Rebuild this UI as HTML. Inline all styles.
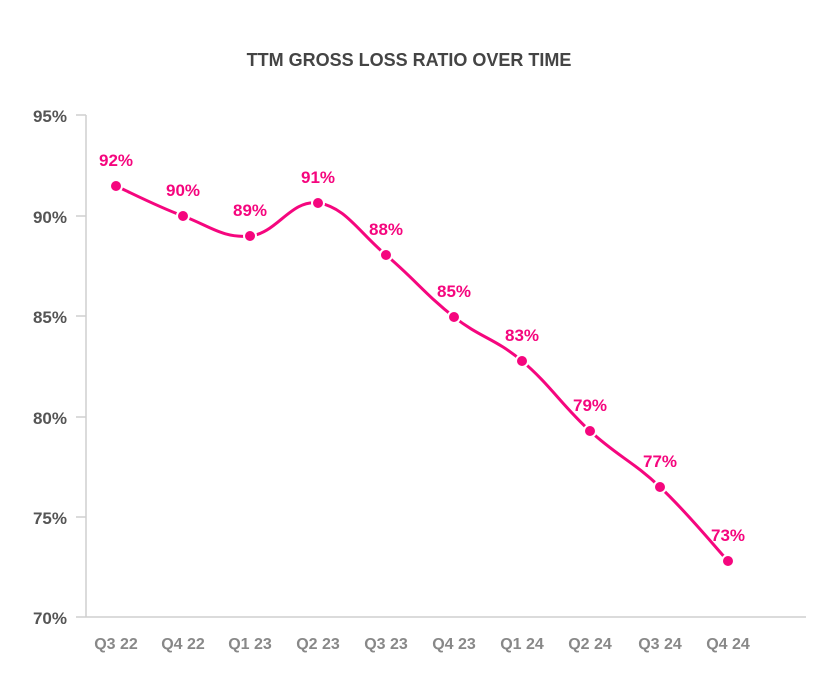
<!DOCTYPE html>
<html><head><meta charset="utf-8"><style>
html,body{margin:0;padding:0;background:#fff;}
svg text{font-family:"Liberation Sans",sans-serif;font-weight:bold;}
</style></head><body>
<svg id="c" width="828" height="683" xmlns="http://www.w3.org/2000/svg">
<text x="409" y="66" text-anchor="middle" font-size="18" fill="#444">TTM GROSS LOSS RATIO OVER TIME</text>
<g stroke="#cfcfcf" stroke-width="1.5" fill="none">
<line x1="86" y1="115" x2="86" y2="617"/>
<line x1="76" y1="617" x2="806" y2="617"/>
<line x1="76" y1="115" x2="86" y2="115"/>
<line x1="76" y1="216" x2="86" y2="216"/>
<line x1="76" y1="316" x2="86" y2="316"/>
<line x1="76" y1="417" x2="86" y2="417"/>
<line x1="76" y1="517" x2="86" y2="517"/>
</g>
<g font-size="17" fill="#555" text-anchor="end">
<text x="67" y="122">95%</text>
<text x="67" y="223">90%</text>
<text x="67" y="323">85%</text>
<text x="67" y="424">80%</text>
<text x="67" y="524">75%</text>
<text x="67" y="624">70%</text>
</g>
<g font-size="16" fill="#888" text-anchor="middle" id="xl"></g>
<path id="ln" fill="none" stroke="#f5067e" stroke-width="3"/>
<g id="pts"></g>
</svg>
<script>
var P=[[116,186,"92%","Q3 22"],[183,216,"90%","Q4 22"],[250,236,"89%","Q1 23"],[318,203,"91%","Q2 23"],[386,255,"88%","Q3 23"],[454,317,"85%","Q4 23"],[522,361,"83%","Q1 24"],[590,431,"79%","Q2 24"],[660,487,"77%","Q3 24"],[728,561,"73%","Q4 24"]];
var ns="http://www.w3.org/2000/svg";
var d="M"+P[0][0]+","+P[0][1];
for(var i=0;i<P.length-1;i++){
 var p0=P[Math.max(i-1,0)],p1=P[i],p2=P[i+1],p3=P[Math.min(i+2,P.length-1)];
 var t=0.2;
 d+=" C"+(p1[0]+(p2[0]-p0[0])*t)+","+(p1[1]+(p2[1]-p0[1])*t)+" "+(p2[0]-(p3[0]-p1[0])*t)+","+(p2[1]-(p3[1]-p1[1])*t)+" "+p2[0]+","+p2[1];
}
document.getElementById("ln").setAttribute("d",d);
var g=document.getElementById("pts"),xl=document.getElementById("xl");
P.forEach(function(p){
 var c=document.createElementNS(ns,"circle");
 c.setAttribute("cx",p[0]);c.setAttribute("cy",p[1]);c.setAttribute("r",6);
 c.setAttribute("fill","#f5067e");c.setAttribute("stroke","#fff");c.setAttribute("stroke-width","2");
 g.appendChild(c);
 var t=document.createElementNS(ns,"text");
 t.setAttribute("x",p[0]);t.setAttribute("y",p[1]-20);t.setAttribute("text-anchor","middle");
 t.setAttribute("font-size","17");t.setAttribute("fill","#f5067e");t.textContent=p[2];
 g.appendChild(t);
 var x=document.createElementNS(ns,"text");
 x.setAttribute("x",p[0]);x.setAttribute("y",649);x.textContent=p[3];
 xl.appendChild(x);
});
</script>
</body></html>
